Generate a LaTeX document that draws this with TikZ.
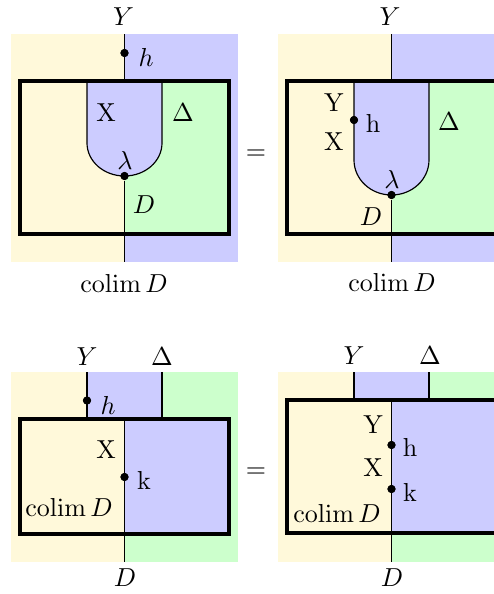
\documentclass[tikz,border=0pt]{standalone}
\usepackage{amsmath}
\definecolor{cyel}{RGB}{255,249,218}
\definecolor{cblu}{RGB}{204,204,255}
\definecolor{cgrn}{RGB}{204,255,204}
\tikzset{
  dotnode/.style={circle,fill=black,inner sep=0pt,minimum size=3.1pt},
  wire/.style={line width=0.45pt,black},
  frame/.style={line width=1.25pt,black},
  lbl/.style={inner sep=0pt}
}
\begin{document}
\begin{tikzpicture}[x=0.3846pt,y=-0.3846pt]
\useasboundingbox (0,0) rectangle (494,594);
\clip (0,0) rectangle (494,594);
% ================= top left =================
\fill[cyel] (11,34) rectangle (124.5,262);
\fill[cblu] (124.5,34) rectangle (238,262);
\fill[cyel] (20,81) rectangle (124.5,234);
\fill[cgrn] (124.5,81) rectangle (229,234);
\fill[cblu] (87,81) -- (87,143) arc[start angle=180,end angle=360,x radius=37.5,y radius=-33] -- (162,81) -- cycle;
\draw[wire] (87,81) -- (87,143) arc[start angle=180,end angle=360,x radius=37.5,y radius=-33] -- (162,81);
\coordinate (tlTop) at (124.5,34);
\coordinate (tlBot) at (124.5,262);
\node[dotnode] (tlh) at (124.5,53) {};
\node[dotnode] (tll) at (124.5,176) {};
\draw[wire] (tlTop) -- (124.5,81);
\draw[wire] (tll) -- (tlBot);
\draw[frame] (20,81) rectangle (229,234);
\node[dotnode] at (tlh) {};
\node[dotnode] at (tll) {};
\node[lbl] (tlY) at (123.5,17) {$Y$};
\node[lbl] (tlhl) at (146,57) {$h$};
\node[lbl] (tlX) at (106,113) {X};
\node[lbl] (tlD1) at (183,113) {$\Delta$};
\node[lbl] (tllam) at (125,160) {$\lambda$};
\node[lbl] (tlD) at (144,205) {$D$};
\node[lbl] (tlc) at (124,283) {$\mathrm{colim}\,D$};
\node[lbl] (eq1) at (256,155) {$=$};
% ================= top right =================
\fill[cyel] (278,34) rectangle (391.5,262);
\fill[cblu] (391.5,34) rectangle (505,262);
\fill[cyel] (287,81) rectangle (391.5,234);
\fill[cgrn] (391.5,81) rectangle (496,234);
\fill[cblu] (354,81) -- (354,160) arc[start angle=180,end angle=360,x radius=37.5,y radius=-35] -- (429,81) -- cycle;
\draw[wire] (354,81) -- (354,160) arc[start angle=180,end angle=360,x radius=37.5,y radius=-35] -- (429,81);
\coordinate (trTop) at (391.5,34);
\coordinate (trBot) at (391.5,262);
\node[dotnode] (trh) at (354,120) {};
\node[dotnode] (trl) at (391.5,195) {};
\draw[wire] (trTop) -- (391.5,81);
\draw[wire] (trl) -- (trBot);
\draw[frame] (287,81) rectangle (496,234);
\node[dotnode] at (trh) {};
\node[dotnode] at (trl) {};
\node[lbl] (trY) at (390,17) {$Y$};
\node[lbl] (trYt) at (334,103) {Y};
\node[lbl] (trhl) at (373,123) {h};
\node[lbl] (trX) at (334,142) {X};
\node[lbl] (trD1) at (449,122) {$\Delta$};
\node[lbl] (trlam) at (392,179) {$\lambda$};
\node[lbl] (trD) at (371,217) {$D$};
\node[lbl] (trc) at (392,282) {$\mathrm{colim}\,D$};
% ================= bottom left =================
\fill[cyel] (11,372) rectangle (124.5,562);
\fill[cgrn] (124.5,372) rectangle (238,562);
\fill[cblu] (87,372) rectangle (162,419);
\fill[cyel] (20,419) rectangle (124.5,534);
\fill[cblu] (124.5,419) rectangle (229,534);
\coordinate (blA) at (87,372);
\coordinate (blB) at (162,372);
\coordinate (blBot) at (124.5,562);
\node[dotnode] (blh) at (87,400.5) {};
\node[dotnode] (blk) at (124.5,477) {};
\draw[wire] (blA) -- (87,419);
\draw[wire] (blB) -- (162,419);
\draw[wire] (124.5,419) -- (blBot);
\draw[frame] (20,419) rectangle (229,534);
\node[dotnode] at (blh) {};
\node[dotnode] at (blk) {};
\node[lbl] (blY) at (87,357) {$Y$};
\node[lbl] (blD1) at (162,357) {$\Delta$};
\node[lbl] (blhl) at (108,405) {$h$};
\node[lbl] (blX) at (106,450) {X};
\node[lbl] (blkl) at (144,480) {k};
\node[lbl] (blc) at (69,507) {$\mathrm{colim}\,D$};
\node[lbl] (blD) at (125,578) {$D$};
\node[lbl] (eq2) at (256,473) {$=$};
% ================= bottom right =================
\fill[cyel] (278,372) rectangle (391.5,562);
\fill[cgrn] (391.5,372) rectangle (505,562);
\fill[cblu] (354,372) rectangle (429,400);
\fill[cyel] (287,400) rectangle (391.5,533);
\fill[cblu] (391.5,400) rectangle (496,533);
\coordinate (brA) at (354,372);
\coordinate (brB) at (429,372);
\coordinate (brBot) at (391.5,562);
\node[dotnode] (brh) at (391.5,445) {};
\node[dotnode] (brk) at (391.5,489) {};
\draw[wire] (brA) -- (354,400);
\draw[wire] (brB) -- (429,400);
\draw[wire] (391.5,400) -- (brBot);
\draw[frame] (287,400) rectangle (496,533);
\node[dotnode] at (brh) {};
\node[dotnode] at (brk) {};
\node[lbl] (brY) at (354,356) {$Y$};
\node[lbl] (brD1) at (430,356) {$\Delta$};
\node[lbl] (brYt) at (373,425) {Y};
\node[lbl] (brhl) at (410,447) {h};
\node[lbl] (brX) at (373,468) {X};
\node[lbl] (brkl) at (410,492) {k};
\node[lbl] (brc) at (337,513) {$\mathrm{colim}\,D$};
\node[lbl] (brD) at (392,578) {$D$};
\end{tikzpicture}
\end{document}
